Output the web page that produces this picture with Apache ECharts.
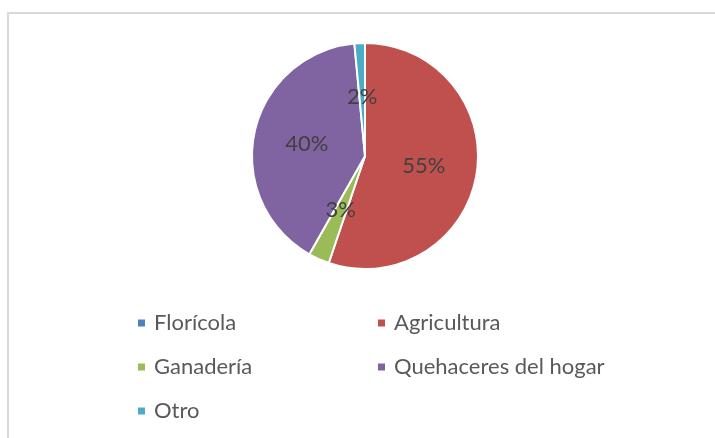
<!DOCTYPE html>
<html lang="es">
<head>
    <meta charset="UTF-8"/>
    <title>pie</title>
    <script src="https://cdn.jsdelivr.net/npm/echarts@6/dist/echarts.min.js"></script>
    <style>
        body { margin: 0; background: #fff; }
        #frame { position: absolute; left: 7px; top: 12px; width: 720px; height: 440px;
                 border-left: 2px solid #d9d9d9; border-top: 2px solid #d9d9d9; box-sizing: border-box; }
        #main { position: absolute; left: 0; top: 0; width: 715px; height: 438px; }
    </style>
</head>
<body>
<div id="frame"></div>
<div id="main"></div>
<script>
    // datos
    var categorias = ['Florícola', 'Agricultura', 'Ganadería', 'Quehaceres del hogar', 'Otro'];
    var valores = [0, 55.2, 3.0, 40.3, 1.5];
    var colores = ['#4f81bd', '#c0504d', '#9bbb59', '#8064a2', '#4bacc6'];

    var datos = [];
    for (var i = 0; i < categorias.length; i++) {
        datos.push({ name: categorias[i], value: valores[i], itemStyle: { color: colores[i] } });
    }

    var myChart = echarts.init(document.getElementById('main'));
    var fuente = 'Lato';
    var leyendaTexto = { fontFamily: fuente, fontSize: 22, lineHeight: 22, color: '#595959', padding: [0, 0, 0, 3] };

    var option = {
        animation: false,
        legend: [
            {
                orient: 'vertical', left: 136, top: 312, padding: 0, itemGap: 22,
                itemWidth: 9, itemHeight: 9, icon: 'rect',
                textStyle: leyendaTexto,
                data: [categorias[0], categorias[2], categorias[4]]
            },
            {
                orient: 'vertical', left: 376, top: 312, padding: 0, itemGap: 22,
                itemWidth: 9, itemHeight: 9, icon: 'rect',
                textStyle: leyendaTexto,
                data: [categorias[1], categorias[3]]
            }
        ],
        series: [
            {
                type: 'pie',
                radius: 113,
                center: [365, 156],
                startAngle: 90,
                clockwise: true,
                minShowLabelAngle: 0,
                itemStyle: { borderColor: '#fff', borderWidth: 2 },
                label: {
                    position: 'inner',
                    fontFamily: fuente,
                    fontSize: 22,
                    color: '#404040',
                    formatter: function (p) {
                        return p.value > 0 ? Math.round(p.percent) + '%' : '';
                    }
                },
                labelLine: { show: false },
                emphasis: { disabled: true },
                data: datos
            }
        ]
    };
    myChart.setOption(option);
</script>
</body>
</html>
